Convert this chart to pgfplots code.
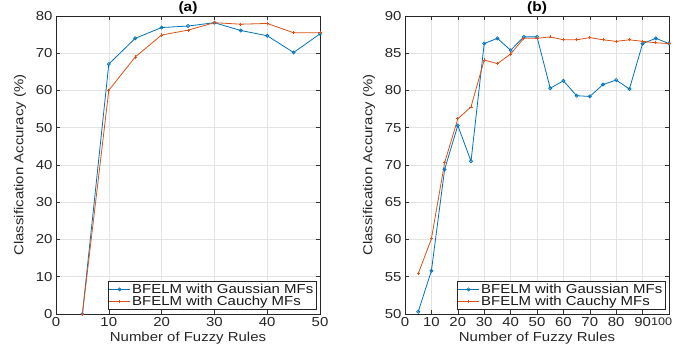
\documentclass[border=0pt]{standalone}
\usepackage{pgfplots}
\pgfplotsset{compat=1.18}
\usepackage{fontspec}
\setmainfont{Liberation Sans}[FakeStretch=1.15]
\definecolor{mblue}{RGB}{0,114,189}
\definecolor{morange}{RGB}{217,83,25}
\newcommand{\fs}{\fontsize{13}{15}\selectfont}
\pgfplotsset{
  mstyle/.style={
    scale only axis, width=264pt, height=298pt, anchor=south west,
    grid=major, major grid style={gray!22, line width=0.5pt},
    tick align=inside, tick style={black!80, line width=0.5pt},
    major tick length=4pt,
    axis line style={black!85, line width=0.6pt},
    /pgf/number format/assume math mode=true,
    tick label style={font=\fs, text=black!85},
    label style={font=\fs, text=black!85},
    xlabel={Number of Fuzzy Rules},
    ylabel={Classification Accuracy (\%)},
    xlabel style={yshift=1.5pt},
    ylabel style={yshift=3pt},
    title style={font=\fontsize{13.5}{15}\selectfont\bfseries, at={(0.5,1)}, anchor=south, yshift=-5.5pt, inner sep=1pt},
    legend style={at={(0.985,0.015)}, anchor=south east, draw=black!85, line width=0.5pt,
      font=\fs, cells={anchor=west}, inner sep=0.5pt, row sep=-3pt,
      nodes={text=black!90}},
    legend image code/.code={\draw[mark repeat=2,mark phase=2] plot coordinates {(0cm,0cm) (0.36cm,0cm) (0.72cm,0cm)};},
    legend image post style={line width=0.8pt},
  },
  gstyle/.style={color=mblue, line width=0.8pt, mark=o, mark size=1.6pt, mark options={line width=0.7pt}},
  cstyle/.style={color=morange, line width=0.8pt, mark=+, mark size=1.6pt, mark options={line width=0.7pt}},
}
\begin{document}
\begin{tikzpicture}[font=\fs]
\path[use as bounding box] (0,0) rectangle (676pt,347pt);
\begin{axis}[mstyle, at={(56pt,33pt)}, xmin=0, xmax=50, ymin=0, ymax=80,
  xtick={0,10,...,50}, ytick={0,10,...,80}, title={(a)}]
\addplot[gstyle] coordinates {(5,0) (10,67.1) (15,74.0) (20,76.9) (25,77.3) (30,78.2) (35,76.1) (40,74.7) (45,70.2) (50,75.2)};
\addplot[cstyle] coordinates {(5,0) (10,60.05) (15,69.0) (20,74.9) (25,76.2) (30,78.2) (35,77.8) (40,78.0) (45,75.5) (50,75.5)};
\legend{BFELM with Gaussian MFs, BFELM with Cauchy MFs}
\end{axis}
\begin{axis}[mstyle, at={(405pt,33pt)}, xmin=0, xmax=100, ymin=50, ymax=90,
  xtick={0,10,...,90}, ytick={50,55,...,90}, title={(b)},
  extra x ticks={100}, extra x tick style={grid=none, xticklabel style={anchor=north east, xshift=6.8pt, font=\fontsize{11}{13}\selectfont}}]
\addplot[gstyle] coordinates {(5,50.3) (10,55.8) (15,69.4) (20,75.3) (25,70.5) (30,86.3) (35,87.0) (40,85.4) (45,87.2) (50,87.2) (55,80.3) (60,81.3) (65,79.3) (70,79.2) (75,80.8) (80,81.4) (85,80.2) (90,86.3) (95,87.0) (100,86.3)};
\addplot[cstyle] coordinates {(5,55.4) (10,60.1) (15,70.3) (20,76.2) (25,77.8) (30,84.1) (35,83.6) (40,84.9) (45,87.0) (50,87.0) (55,87.2) (60,86.8) (65,86.8) (70,87.1) (75,86.8) (80,86.6) (85,86.8) (90,86.6) (95,86.4) (100,86.3)};
\legend{BFELM with Gaussian MFs, BFELM with Cauchy MFs}
\end{axis}
\end{tikzpicture}
\end{document}
